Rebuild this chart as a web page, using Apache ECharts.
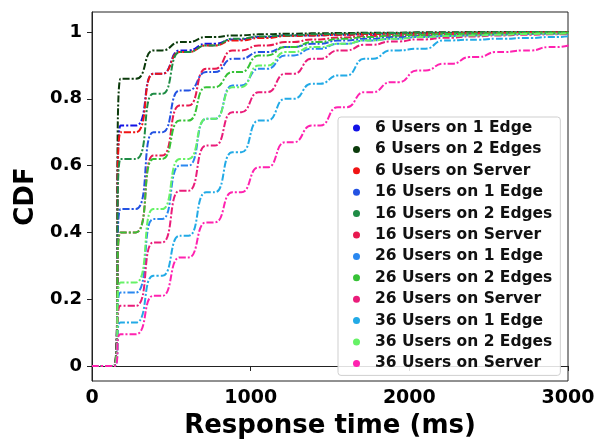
<!DOCTYPE html>
<html>
<head>
<meta charset="utf-8">
<script src="https://cdn.jsdelivr.net/npm/echarts@6/dist/echarts.min.js"></script>
<style>
  html, body { margin: 0; padding: 0; background: #fff; }
  #main { width: 608px; height: 440px; }
</style>
</head>
<body>
<div id="main"></div>
<script>
// step times (ms) where every CDF jumps, roughly one frame of ~166 ms apart
var stepMs = [160, 332, 498, 664, 830, 996, 1162, 1328, 1494, 1660, 1826, 1992, 2158, 2324, 2490, 2656, 2822, 2988];

// CDF level reached after each step
var u6Edge1   = [0.72, 0.875, 0.945, 0.965, 0.978, 0.985, 0.99, 0.99, 0.992, 0.994, 0.995, 0.996, 0.997, 0.998, 0.998, 0.999, 0.999, 1.0];
var u6Edge2   = [0.86, 0.945, 0.97, 0.985, 0.99, 0.993, 0.995, 0.996, 0.997, 0.998, 0.998, 0.999, 0.999, 1.0, 1.0, 1.0, 1.0, 1.0];
var u6Server  = [0.70, 0.875, 0.94, 0.96, 0.975, 0.982, 0.988, 0.99, 0.992, 0.994, 0.995, 0.996, 0.997, 0.998, 0.998, 0.999, 0.999, 1.0];
var u16Edge1  = [0.47, 0.70, 0.825, 0.88, 0.92, 0.94, 0.955, 0.965, 0.975, 0.98, 0.985, 0.988, 0.99, 0.992, 0.994, 0.995, 0.996, 0.997];
var u16Edge2  = [0.62, 0.815, 0.94, 0.96, 0.98, 0.987, 0.99, 0.993, 0.995, 0.996, 0.997, 0.998, 0.998, 0.999, 0.999, 1.0, 1.0, 1.0];
var u16Server = [0.40, 0.63, 0.78, 0.89, 0.945, 0.96, 0.97, 0.978, 0.984, 0.988, 0.99, 0.992, 0.994, 0.995, 0.996, 0.997, 0.998, 0.998];
var u26Edge1  = [0.22, 0.44, 0.60, 0.74, 0.84, 0.89, 0.93, 0.95, 0.965, 0.975, 0.98, 0.985, 0.988, 0.99, 0.992, 0.994, 0.995, 0.996];
var u26Edge2  = [0.40, 0.62, 0.735, 0.835, 0.88, 0.93, 0.955, 0.97, 0.98, 0.985, 0.99, 0.992, 0.994, 0.995, 0.996, 0.997, 0.998, 0.998];
var u26Server = [0.18, 0.37, 0.525, 0.66, 0.76, 0.82, 0.875, 0.92, 0.945, 0.962, 0.972, 0.978, 0.983, 0.987, 0.99, 0.992, 0.993, 0.995];
var u36Edge1  = [0.13, 0.27, 0.39, 0.52, 0.64, 0.735, 0.80, 0.845, 0.87, 0.92, 0.945, 0.95, 0.975, 0.977, 0.98, 0.982, 0.985, 0.99];
var u36Edge2  = [0.25, 0.47, 0.62, 0.74, 0.835, 0.90, 0.94, 0.955, 0.965, 0.975, 0.98, 0.985, 0.988, 0.99, 0.992, 0.994, 0.995, 0.996];
var u36Server = [0.095, 0.21, 0.325, 0.43, 0.52, 0.595, 0.67, 0.72, 0.775, 0.82, 0.85, 0.885, 0.905, 0.925, 0.94, 0.945, 0.955, 0.965];

var names = ['6 Users on 1 Edge', '6 Users on 2 Edges', '6 Users on Server',
  '16 Users on 1 Edge', '16 Users on 2 Edges', '16 Users on Server',
  '26 Users on 1 Edge', '26 Users on 2 Edges', '26 Users on Server',
  '36 Users on 1 Edge', '36 Users on 2 Edges', '36 Users on Server'];
var levels = [u6Edge1, u6Edge2, u6Server, u16Edge1, u16Edge2, u16Server,
  u26Edge1, u26Edge2, u26Server, u36Edge1, u36Edge2, u36Server];
var colors = ['#1212e6', '#0b3a0b', '#f01414', '#2352e2', '#1f8c45', '#e8194f',
  '#2a88f0', '#36c236', '#ea1c7a', '#22aae6', '#66f266', '#ff22b0'];

var yTicks = [0, 0.2, 0.4, 0.6, 0.8, 1];
var rampMs = 55;      // half width of each later rise
var firstRampMs = 20; // the first rise is much steeper

function stairs(lv) {
  var pts = [[0, 0]];
  var prev = 0;
  for (var i = 0; i < stepMs.length; i++) {
    var w = i === 0 ? firstRampMs : rampMs;
    pts.push([stepMs[i] - w, prev]);
    pts.push([stepMs[i] + w, lv[i]]);
    prev = lv[i];
  }
  return pts;
}

var series = names.map(function (n, i) {
  return {
    name: n,
    type: 'line',
    data: stairs(levels[i]),
    smooth: 0.5,
    showSymbol: false,
    clip: true,
    lineStyle: { width: 2, type: [7, 2, 2, 2], color: colors[i] },
    itemStyle: { color: colors[i] }
  };
});

var chart = echarts.init(document.getElementById('main'));
var font = 'DejaVu Sans';
var option = {
  animation: false,
  textStyle: { fontFamily: font },
  grid: {
    left: 92, right: 40, top: 12, bottom: 59,
    containLabel: false,
    outerBoundsMode: 'none',
    show: true, borderColor: '#222', borderWidth: 1
  },
  legend: {
    orient: 'vertical',
    left: 338, top: 117,
    padding: [3, 8, 4, 15],
    itemWidth: 7, itemHeight: 7,
    itemGap: 5.4,
    icon: 'circle',
    backgroundColor: 'rgba(255,255,255,0.85)',
    borderColor: '#cfcfcf', borderWidth: 1, borderRadius: 3,
    textStyle: { fontFamily: font, fontWeight: 'bold', fontSize: 15.5, color: '#111', lineHeight: 16, padding: [0, 0, 0, 10] },
    data: names
  },
  xAxis: {
    type: 'value',
    min: 0, max: 3000, interval: 1000,
    name: 'Response time (ms)',
    nameLocation: 'middle', nameGap: 30,
    nameTextStyle: { fontFamily: font, fontWeight: 'bold', fontSize: 26, color: '#000' },
    axisLine: { show: true, lineStyle: { color: '#222' } },
    axisTick: { show: true, length: 5, lineStyle: { color: '#222' } },
    axisLabel: {
      fontFamily: font, fontWeight: 'bold', fontSize: 19, color: '#000', margin: 8,
      formatter: function (v) { return String(v); }
    },
    splitLine: { show: false }
  },
  yAxis: {
    type: 'value',
    min: -0.045, max: 1.06,
    name: 'CDF',
    nameLocation: 'middle', nameGap: 49,
    nameTextStyle: { fontFamily: font, fontWeight: 'bold', fontSize: 26, color: '#000' },
    axisLine: { show: true, lineStyle: { color: '#222' } },
    axisTick: { show: true, length: 5, customValues: yTicks, lineStyle: { color: '#222' } },
    axisLabel: {
      fontFamily: font, fontWeight: 'bold', fontSize: 18, color: '#000', margin: 10,
      customValues: yTicks,
      formatter: function (v) { return String(v); }
    },
    splitLine: { show: false }
  },
  series: series
};
chart.setOption(option);
</script>
</body>
</html>
